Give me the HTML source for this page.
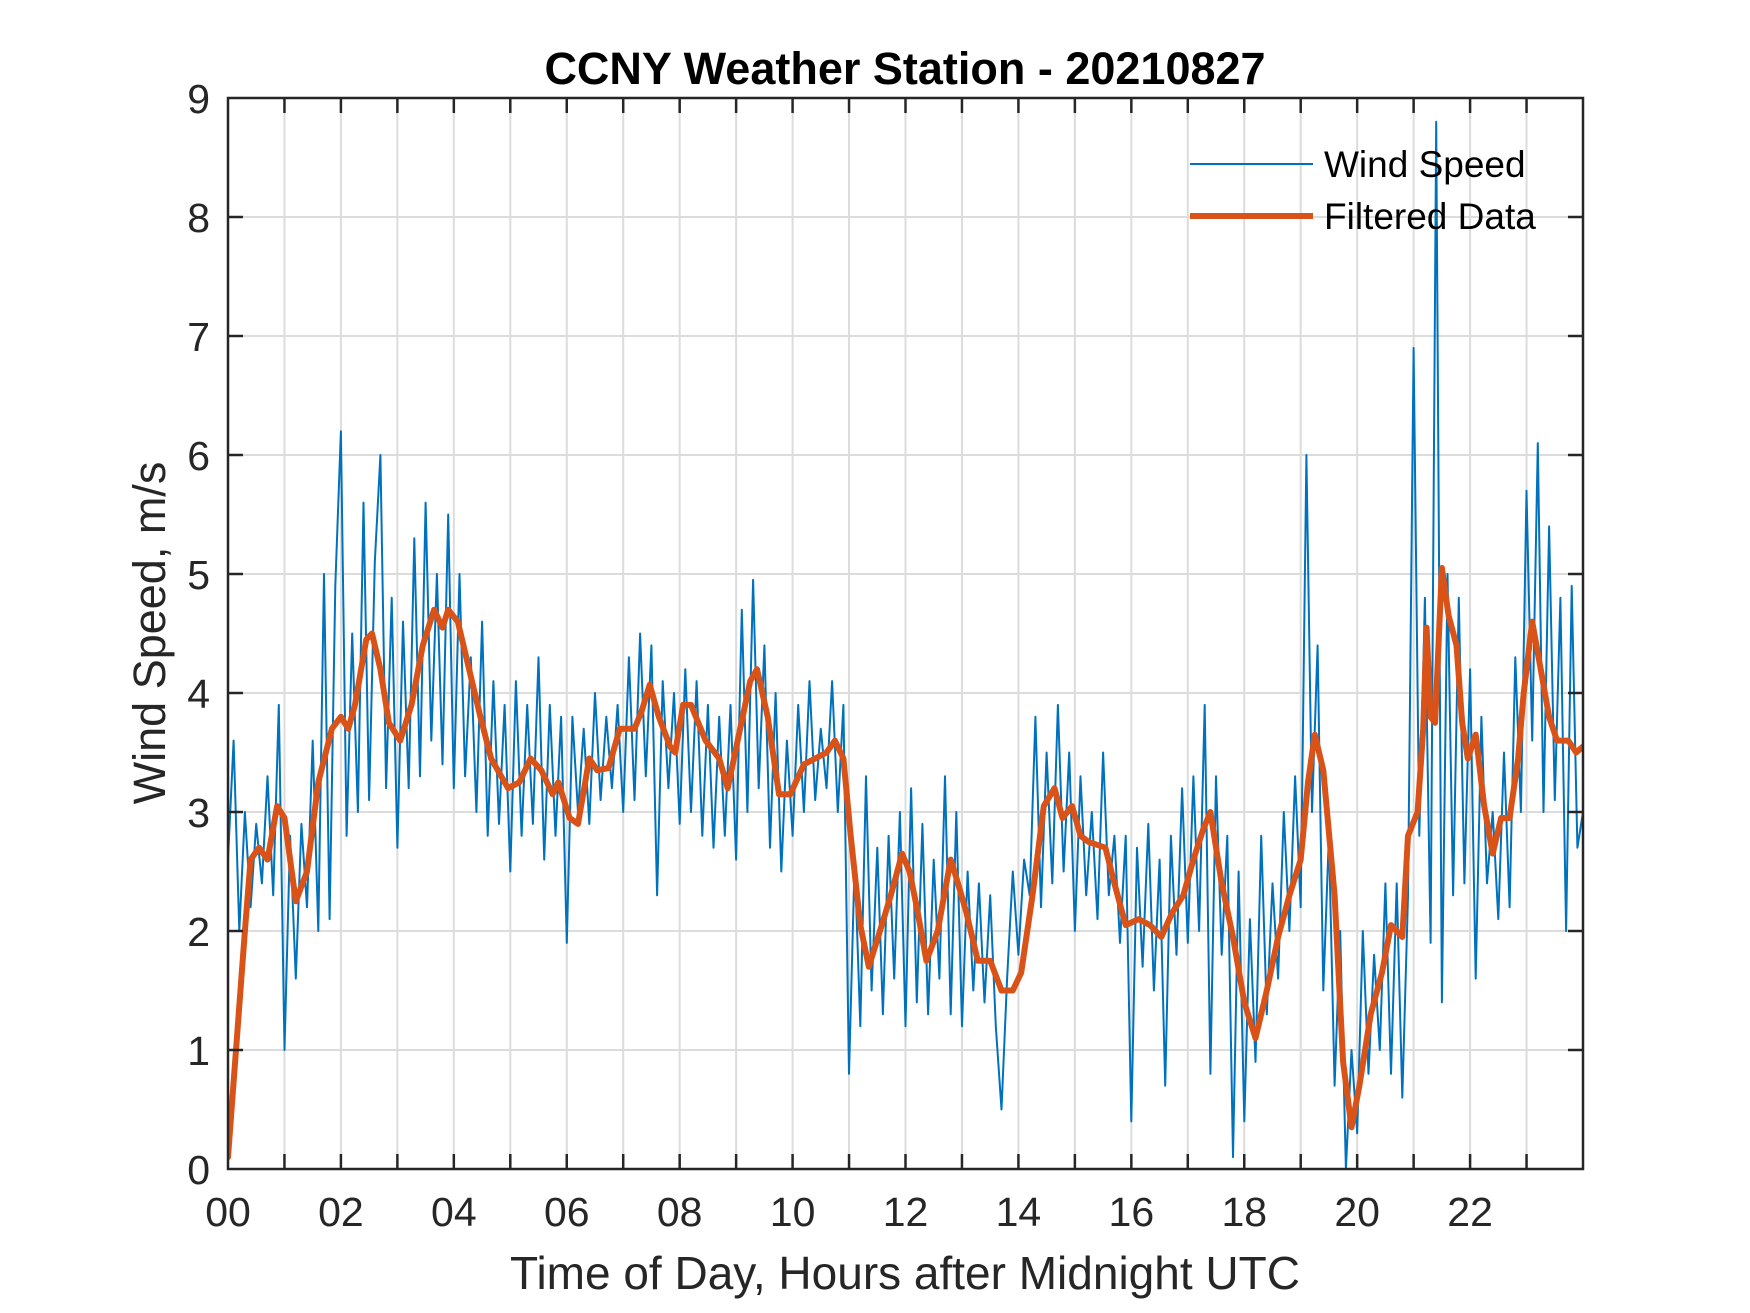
<!DOCTYPE html>
<html><head><meta charset="utf-8"><style>
html,body{margin:0;padding:0;background:#fff;}
svg{display:block;font-family:"Liberation Sans",Arial,sans-serif;}
</style></head><body>
<svg id="chart" width="1750" height="1313" viewBox="0 0 1750 1313" xmlns="http://www.w3.org/2000/svg">
<rect width="1750" height="1313" fill="#fff"/>
<g id="grid"></g>
<g id="series"></g>
<g id="axes"></g>
<text x="905" y="84" text-anchor="middle" font-size="45" font-weight="bold" fill="#000">CCNY Weather Station - 20210827</text>
<text x="905" y="1289" text-anchor="middle" font-size="46" fill="#262626">Time of Day, Hours after Midnight UTC</text>
<text transform="translate(165,633) rotate(-90)" text-anchor="middle" font-size="45" fill="#262626">Wind Speed, m/s</text>
<g>
<line x1="1190" y1="164" x2="1313" y2="164" stroke="#0072BD" stroke-width="2"/>
<text x="1324" y="177" font-size="37" fill="#000">Wind Speed</text>
<line x1="1190" y1="216" x2="1313" y2="216" stroke="#D95319" stroke-width="6"/>
<text x="1324" y="229" font-size="37" fill="#000">Filtered Data</text>
</g>
</svg>
<script>
const xTicks = [0,1,2,3,4,5,6,7,8,9,10,11,12,13,14,15,16,17,18,19,20,21,22,23,24];
const xTickLabels = ["00","","02","","04","","06","","08","","10","","12","","14","","16","","18","","20","","22","",""];
const yTicks = [0,1,2,3,4,5,6,7,8,9];
const yTickLabels = ["0","1","2","3","4","5","6","7","8","9"];
// raw wind speed, sampled every 0.1 h starting at 0 h
const windSpeed = [
2.6,3.6,2.0,3.0,2.2,2.9,2.4,3.3,2.3,3.9,
1.0,2.8,1.6,2.9,2.2,3.6,2.0,5.0,2.1,4.9,
6.2,2.8,4.5,3.0,5.6,3.1,5.1,6.0,3.2,4.8,
2.7,4.6,3.2,5.3,3.3,5.6,3.6,5.0,3.4,5.5,
3.2,5.0,3.3,4.3,3.0,4.6,2.8,4.1,2.9,3.9,
2.5,4.1,2.8,3.9,2.9,4.3,2.6,3.9,2.8,3.8,
1.9,3.8,3.0,3.7,2.9,4.0,3.1,3.8,3.2,3.9,
3.0,4.3,3.1,4.5,3.3,4.4,2.3,4.1,3.2,4.0,
2.9,4.2,3.0,4.1,2.8,3.9,2.7,3.8,2.8,3.9,
2.6,4.7,3.0,4.95,3.2,4.4,2.7,4.0,2.5,3.6,
2.8,3.9,3.0,4.1,3.1,3.7,3.2,4.1,3.0,3.9,
0.8,2.6,1.2,3.3,1.5,2.7,1.3,2.8,1.6,3.0,
1.2,3.2,1.4,2.9,1.3,2.6,1.6,3.3,1.3,3.0,
1.2,2.5,1.5,2.4,1.4,2.3,1.2,0.5,1.6,2.5,
1.8,2.6,2.3,3.8,2.2,3.5,2.4,3.9,2.5,3.5,
2.0,3.3,2.3,3.0,2.1,3.5,2.3,2.8,1.9,2.8,
0.4,2.7,1.7,2.9,1.5,2.6,0.7,2.8,1.8,3.2,
1.9,3.3,2.0,3.9,0.8,3.3,1.8,2.8,0.1,2.5,
0.4,2.1,0.9,2.8,1.3,2.4,1.6,3.0,2.0,3.3,
2.2,6.0,3.0,4.4,1.5,2.8,0.7,2.0,0.0,1.0,
0.3,2.0,0.8,1.8,1.0,2.4,0.8,2.4,0.6,2.3,
6.9,2.8,4.8,1.9,8.8,1.4,5.0,2.3,4.8,2.4,
4.2,1.6,3.8,2.4,3.0,2.1,3.5,2.2,4.3,3.0,
5.7,3.6,6.1,3.0,5.4,3.1,4.8,2.0,4.9,2.7,
3.0];
const windStepHours = 0.1;
const filteredHours = [0,0.3,0.4,0.55,0.7,0.87,1.0,1.2,1.4,1.6,1.84,2.0,2.13,2.25,2.45,2.55,2.7,2.85,3.05,3.25,3.45,3.65,3.8,3.9,4.07,4.27,4.47,4.66,4.96,5.16,5.36,5.55,5.75,5.85,6.05,6.2,6.4,6.54,6.74,6.94,7.2,7.33,7.47,7.63,7.83,7.92,8.06,8.2,8.46,8.7,8.85,9.05,9.25,9.37,9.56,9.76,9.96,10.2,10.4,10.6,10.75,10.9,11.03,11.2,11.35,11.58,11.74,11.94,12.07,12.2,12.37,12.57,12.8,12.93,13.08,13.28,13.5,13.7,13.9,14.05,14.25,14.45,14.64,14.78,14.95,15.1,15.24,15.54,15.7,15.9,16.13,16.33,16.53,16.72,16.92,17.1,17.27,17.4,17.6,17.8,18.0,18.2,18.4,18.6,18.8,19.0,19.13,19.25,19.4,19.6,19.75,19.9,20.04,20.24,20.44,20.6,20.8,20.9,21.07,21.17,21.23,21.3,21.38,21.5,21.62,21.76,21.86,21.96,22.1,22.25,22.4,22.55,22.7,22.85,22.95,23.1,23.25,23.4,23.54,23.74,23.88,24];
const filteredValues = [0.1,2.0,2.6,2.7,2.6,3.05,2.95,2.25,2.5,3.25,3.7,3.8,3.7,3.9,4.45,4.5,4.2,3.75,3.6,3.9,4.4,4.7,4.55,4.7,4.6,4.2,3.8,3.45,3.2,3.25,3.45,3.35,3.15,3.25,2.95,2.9,3.45,3.35,3.37,3.7,3.7,3.85,4.07,3.8,3.55,3.5,3.9,3.9,3.6,3.45,3.2,3.65,4.1,4.2,3.8,3.15,3.15,3.4,3.45,3.5,3.6,3.45,2.8,2.05,1.7,2.05,2.3,2.65,2.5,2.2,1.75,2.0,2.6,2.4,2.15,1.75,1.75,1.5,1.5,1.65,2.3,3.05,3.2,2.95,3.05,2.8,2.75,2.7,2.4,2.05,2.1,2.05,1.95,2.15,2.3,2.6,2.85,3.0,2.4,1.95,1.4,1.1,1.5,1.95,2.3,2.6,3.25,3.65,3.35,2.3,0.9,0.35,0.7,1.3,1.65,2.05,1.95,2.8,3.0,3.7,4.55,3.8,3.75,5.05,4.65,4.4,3.75,3.45,3.65,3.05,2.65,2.95,2.95,3.45,4.0,4.6,4.2,3.8,3.6,3.6,3.5,3.55];

const NS = "http://www.w3.org/2000/svg";
const L = 228, R = 1583, T = 98, B = 1169;
const xMin = 0, xMax = 24, yMin = 0, yMax = 9;
function xs(h){ return L + (h - xMin) / (xMax - xMin) * (R - L); }
function ys(v){ return B - (v - yMin) / (yMax - yMin) * (B - T); }
function mk(tag, attrs, parent){
  const e = document.createElementNS(NS, tag);
  for (const k in attrs) e.setAttribute(k, attrs[k]);
  parent.appendChild(e);
  return e;
}
const grid = document.getElementById('grid');
const axes = document.getElementById('axes');
const series = document.getElementById('series');

xTicks.forEach((t, i) => {
  const x = xs(t);
  if (t > xMin && t < xMax) {
    const g = mk('line', {x1:x, y1:T, x2:x, y2:B, stroke:'#dcdcdc', 'stroke-width':2}, grid);
    
    
    const tb = mk('line', {x1:x, y1:B, x2:x, y2:B-15, stroke:'#262626', 'stroke-width':2.5}, axes);
    
    
    const tt = mk('line', {x1:x, y1:T, x2:x, y2:T+15, stroke:'#262626', 'stroke-width':2.5}, axes);
    
    
  }
  if (xTickLabels[i]) {
    const lb = mk('text', {x:x, y:B+57, 'text-anchor':'middle', 'font-size':41, fill:'#262626'}, axes);
    lb.textContent = xTickLabels[i];
    
    
  }
});
yTicks.forEach((t, i) => {
  const y = ys(t);
  if (t > yMin && t < yMax) {
    const g = mk('line', {x1:L, y1:y, x2:R, y2:y, stroke:'#dcdcdc', 'stroke-width':2}, grid);
    
    
    const tl = mk('line', {x1:L, y1:y, x2:L+15, y2:y, stroke:'#262626', 'stroke-width':2.5}, axes);
    
    
    const tr = mk('line', {x1:R, y1:y, x2:R-15, y2:y, stroke:'#262626', 'stroke-width':2.5}, axes);
    
    
  }
  const lb = mk('text', {x:L-18, y:y+15, 'text-anchor':'end', 'font-size':41, fill:'#262626'}, axes);
  lb.textContent = yTickLabels[i];
  
  
});
const frame = mk('rect', {x:L, y:T, width:R-L, height:B-T, fill:'none', stroke:'#262626', 'stroke-width':2.5}, axes);



const clip = mk('clipPath', {id:'plotclip'}, document.getElementById('chart'));
mk('rect', {x:L, y:T, width:R-L, height:B-T}, clip);

const bluePts = windSpeed.map((v, i) => xs(i * windStepHours).toFixed(1) + ',' + ys(v).toFixed(1)).join(' ');
const blue = mk('polyline', {points:bluePts, fill:'none', stroke:'#0072BD', 'stroke-width':2, 'stroke-linejoin':'round', 'clip-path':'url(#plotclip)'}, series);



const orangePts = filteredValues.map((v, i) => xs(filteredHours[i]).toFixed(1) + ',' + ys(v).toFixed(1)).join(' ');
const orange = mk('polyline', {points:orangePts, fill:'none', stroke:'#D95319', 'stroke-width':6, 'stroke-linejoin':'round', 'stroke-linecap':'round', 'clip-path':'url(#plotclip)'}, series);


</script>
</body></html>
